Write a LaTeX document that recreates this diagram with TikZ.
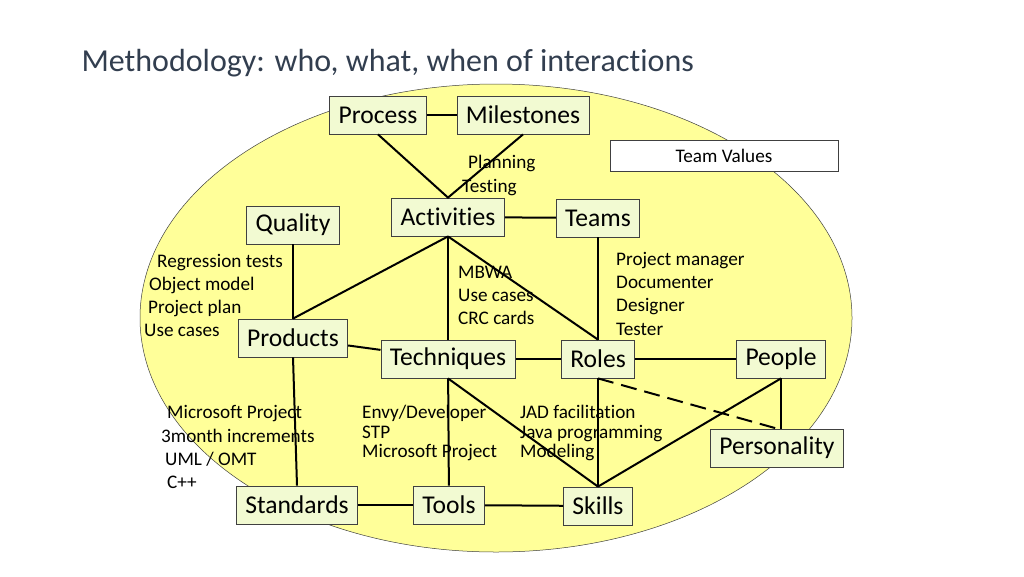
\documentclass[tikz,border=0pt]{standalone}
\usepackage{fontspec}
\setmainfont{Carlito}[Ligatures={NoCommon}]
\usepackage{xcolor}
\usetikzlibrary{positioning}
\definecolor{blobyellow}{RGB}{255,255,153}
\definecolor{boxfill}{RGB}{242,250,210}
\definecolor{boxline}{RGB}{64,64,64}
\definecolor{titleblue}{RGB}{50,62,79}
\begin{document}
\begin{tikzpicture}[x=1pt,y=-1pt,
  box/.style={draw=boxline,fill=boxfill,line width=0.8pt,minimum height=38pt,inner xsep=9pt,font=\fontsize{25.6}{30}\selectfont},
  note/.style={anchor=base west,inner sep=0pt,font=\fontsize{19.2}{23}\selectfont},
  link/.style={line width=2pt,black}]
\useasboundingbox (0,0) rectangle (1024,576);
\node[anchor=base west,text=titleblue,font=\fontsize{32}{38}\selectfont] (title) at (78,71) {Methodology: who, what, when of interactions};
\draw[boxline,line width=0.5pt,fill=blobyellow] (496,318) ellipse [x radius=356pt,y radius=234pt];
% boxes
\node[box] (proc) at (378,115) {Process};
\node[box] (mile) at (523,115) {Milestones};
\node[box] (act) at (448,217) {Activities};
\node[box] (teams) at (598,218) {Teams};
\node[box] (qual) at (293,225) {Quality};
\node[box] (prod) at (293,338) {Products};
\node[box] (tech) at (448,359) {Techniques};
\node[box] (roles) at (598,359) {Roles};
\node[box] (people) at (781,359) {People};
\node[box] (pers) at (777,448) {Personality};
\node[box] (std) at (297,505) {Standards};
\node[box] (tools) at (449,505) {Tools};
\node[box] (skills) at (598,506) {Skills};
\node[draw=boxline,fill=white,line width=0.6pt,minimum width=228pt,minimum height=31pt,font=\fontsize{19.2}{23}\selectfont] (values) at (724,156) {Team Values};
% connectors
\draw[link] (proc) -- (mile);
\draw[link] (proc.south) -- (act.north) -- (mile.south);
\draw[link] (act) -- (teams);
\draw[link] (qual) -- (prod);
\draw[link] (act.south) -- (prod.north);
\draw[link] (act.south) -- (tech.north);
\draw[link] (act.south) -- (roles.north);
\draw[link] (teams) -- (roles);
\draw[link] (prod) -- (tech);
\draw[link] (tech) -- (roles);
\draw[link] (roles) -- (people);
\draw[link,dash pattern=on 16pt off 8pt] (roles.south) -- (pers.north);
\draw[link] (people.south) -- (people.south |- pers.north);
\draw[link] (people.south) -- (skills.north);
\draw[link] (roles) -- (skills);
\draw[link] (tech.south) -- (skills.north);
\draw[link] (tech) -- (tools);
\draw[link] (prod.south) -- (std.north);
\draw[link] (std) -- (tools);
\draw[link] (tools) -- (skills);
% labels
\foreach \x/\y/\t in {468/168/Planning,462/192/Testing,
  157/267/{Regression tests},149/290/{Object model},148/313/{Project plan},144/336/{Use cases},
  167/418/{Microsoft Project},161/442/{3month increments},165/465/{UML / OMT},167/488/{C++}}
  \node[note] at (\x,\y) {\t};
\node[note] (mbwa) at (458,278) {MBWA};
\node[note] (uses) at (458,301) {Use cases};
\node[note] (crc) at (458,324) {CRC cards};
\node[note] (staff) at (616,265) {Project manager};
\node[note] (docu) at (616,288) {Documenter};
\node[note] (desi) at (616,311) {Designer};
\node[note] (test) at (616,335) {Tester};
\node[note] (envy) at (362,418) {Envy/Developer};
\node[note] (stp) at (362,438) {STP};
\node[note] (msp) at (362,457) {Microsoft Project};
\node[note] (jad) at (520,418) {JAD facilitation};
\node[note] (java) at (520,438) {Java programming};
\node[note] (model) at (520,457) {Modeling};
\end{tikzpicture}
\end{document}
